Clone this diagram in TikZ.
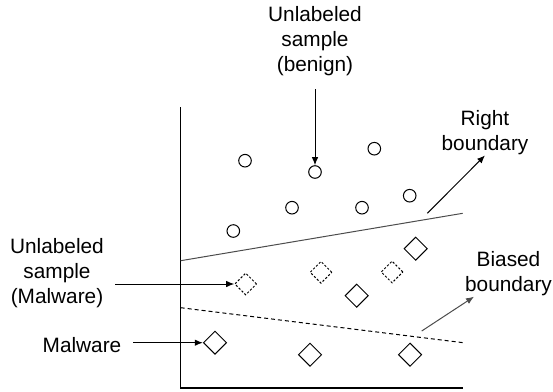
\documentclass[tikz,border=0pt]{standalone}
\usepackage{fontspec}
\setmainfont{Liberation Sans}
\usetikzlibrary{arrows.meta,shapes.geometric}
\tikzset{
  lbl/.style={inner sep=0pt, align=center, font=\fontsize{20.8}{25}\selectfont},
  benign/.style={circle, draw, line width=1pt, minimum size=12.6pt, inner sep=0pt},
  mal/.style={diamond, draw, line width=1pt, minimum size=23.4pt, inner sep=0pt},
  unmal/.style={diamond, draw, dashed, dash pattern=on 2.2pt off 1.8pt, line width=1pt, minimum size=22pt, inner sep=0pt},
  ptr/.style={-{Latex[length=8pt,width=6.5pt]}, line width=1pt},
  axis/.style={line width=1.2pt},
}
\begin{document}
\begin{tikzpicture}[x=1pt,y=-1pt]
\useasboundingbox (0,0) rectangle (553,391);

% axes
\coordinate (axtop) at (180.7,107);
\coordinate (origin) at (180.7,388);
\coordinate (axright) at (463,388);
\draw[axis] (axtop) -- (origin) -- (axright);

% decision boundaries
\coordinate (rl) at (180.7,260.7);
\coordinate (rr) at (462.7,213.3);
\draw[line width=1pt, black!70] (rl) -- (rr);
\coordinate (bl) at (180.7,307.7);
\coordinate (br) at (463.3,342.7);
\draw[line width=1pt, dashed, dash pattern=on 4pt off 3pt] (bl) -- (br);

% benign samples
\node[benign] (c1) at (245,160.7) {};
\node[benign] (c2) at (315,172) {};
\node[benign] (c3) at (374.3,148.7) {};
\node[benign] (c4) at (292,207.7) {};
\node[benign] (c5) at (362,207.7) {};
\node[benign] (c6) at (409.7,195.7) {};
\node[benign] (c7) at (233.3,231) {};

% malware samples
\node[mal] (m1) at (415.7,248.7) {};
\node[mal] (m2) at (356.7,295.7) {};
\node[mal] (m3) at (215,342.7) {};
\node[mal] (m4) at (310,354.7) {};
\node[mal] (m5) at (410,354.7) {};

% unlabeled malware samples
\node[unmal] (u1) at (245.7,284) {};
\node[unmal] (u2) at (321,272.3) {};
\node[unmal] (u3) at (392,272) {};

% labels
\node[lbl] (lbenign) at (315,41) {Unlabeled\\sample\\(benign)};
\node[lbl] (lumal) at (57,273) {Unlabeled\\sample\\(Malware)};
\node[lbl] (lmal) at (82,345) {Malware};
\node[lbl] (lright) at (485,133) {Right\\boundary};
\node[lbl] (lbiased) at (508.5,274) {Biased\\boundary};

% pointers
\coordinate (benigntail) at (315,89);
\draw[ptr] (benigntail) -- (c2.north);
\coordinate (umaltail) at (115,284);
\draw[ptr] (umaltail) -- (u1.west);
\coordinate (maltail) at (133.3,342.7);
\draw[ptr] (maltail) -- (m3.west);
\coordinate (righttail) at (427.3,213.3);
\draw[ptr] (righttail) -- (lright.south);
\coordinate (biasedtail) at (421.7,331);
\coordinate (biasedtip) at (474,296.7);
\draw[ptr, black!70] (biasedtail) -- (biasedtip);
\end{tikzpicture}
\end{document}
